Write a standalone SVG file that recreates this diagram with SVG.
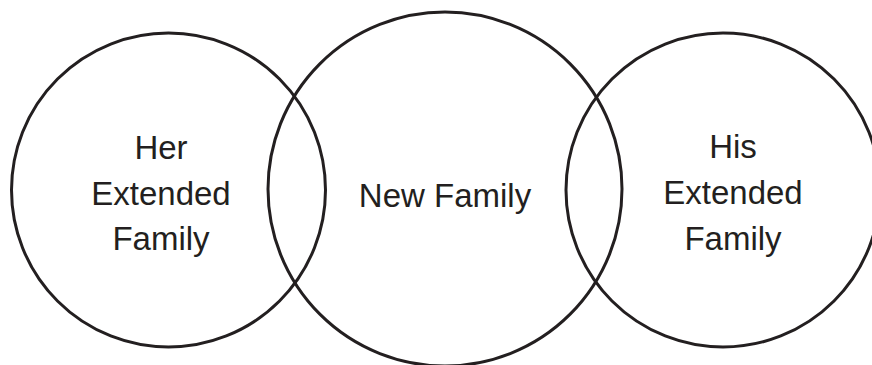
<svg xmlns="http://www.w3.org/2000/svg" width="872" height="365" viewBox="0 0 872 365">
<style>
.c{fill:none;stroke:#231f20;stroke-width:3}
.t{font-family:"Liberation Sans","Arial",sans-serif;font-size:33px;fill:#231f20;text-anchor:middle}
</style>
<rect width="872" height="365" fill="#ffffff"/>
<g id="her-extended-family">
<circle class="c" cx="168.5" cy="190" r="157"/>
<text class="t" x="161" y="159">Her</text>
<text class="t" x="161" y="205">Extended</text>
<text class="t" x="161" y="250">Family</text>
</g>
<g id="new-family">
<circle class="c" cx="445" cy="189" r="177"/>
<text class="t" x="445" y="207">New Family</text>
</g>
<g id="his-extended-family">
<circle class="c" cx="723" cy="190" r="157"/>
<text class="t" x="733" y="158">His</text>
<text class="t" x="733" y="204">Extended</text>
<text class="t" x="733" y="250">Family</text>
</g>
<g id="connectors"></g>
</svg>
